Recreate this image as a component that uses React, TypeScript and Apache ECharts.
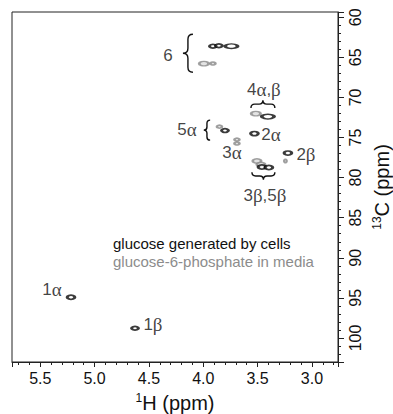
import React, { useEffect, useRef } from 'react';
import * as echarts from 'echarts';

const SANS = '"Liberation Sans", Arial, Helvetica, sans-serif';
const SERIF = '"Liberation Serif", "Times New Roman", serif';

// Axis ranges (ppm)
const H_RANGE = [2.76, 5.76];
const C_RANGE = [59.34, 103];

// Peaks: glucose generated by cells (black contours)
const cellsH = [3.911, 3.856, 3.741, 3.405, 3.8, 3.529, 3.221, 3.46, 3.396, 5.217, 4.628];
const cellsC = [63.61, 63.55, 63.61, 72.39, 74.13, 74.51, 76.94, 78.68, 78.74, 94.93, 98.79];
const cellsIntensity = [0.8, 0.8, 1.45, 1.45, 0.8, 0.9, 0.9, 0.9, 0.9, 0.9, 0.8];

// Peaks: glucose-6-phosphate in media (gray contours)
const mediaH = [3.994, 3.911, 3.516, 3.851, 3.69, 3.69, 3.244, 3.506, 3.469];
const mediaC = [65.78, 65.77, 72.02, 73.64, 75.26, 75.75, 77.93, 77.93, 78.37];
const mediaIntensity = [1.1, 0.6, 1.1, 0.6, 0.6, 0.6, 0.35, 1.0, 1.0];

// Assignment labels
const labelText = ['6', '4α,β', '5α', '3α', '2α', '2β', '3β,5β', '1α', '1β'];
const labelH = [4.325, 3.442, 4.15, 3.736, 3.377, 3.055, 3.432, 5.392, 4.463];
const labelC = [64.73, 68.97, 73.95, 76.81, 74.57, 77.06, 82.17, 94.0, 98.36];

// Braces grouping peaks: position on one axis, span on the other
const braceAt = [4.141, 3.966, 70.83, 79.8];
const braceFrom = [62.12, 72.83, 3.561, 3.552];
const braceTo = [66.85, 75.32, 3.341, 3.341];
const braceDir = ['left', 'left', 'up', 'down'];

const SERIES_CELLS = 'glucose generated by cells';
const SERIES_MEDIA = 'glucose-6-phosphate in media';

function bracePath(p1: number[], p2: number[], dir: string): string {
  const dx = p2[0] - p1[0];
  const dy = p2[1] - p1[1];
  const L = Math.sqrt(dx * dx + dy * dy);
  const ux = dx / L, uy = dy / L;
  const t = dir === 'left' ? [-1, 0] : dir === 'up' ? [0, -1] : [0, 1];
  const d = Math.max(6, Math.min(10, L * 0.32));
  const r = d / 2;
  const mx = (p1[0] + p2[0]) / 2, my = (p1[1] + p2[1]) / 2;
  const P = (a: number, b: number) => {
    const x = mx + ux * a - t[0] * b;
    const y = my + uy * a - t[1] * b;
    return x.toFixed(2) + ' ' + y.toFixed(2);
  };
  const h = L / 2;
  return (
    'M ' + P(-h, r) +
    ' Q ' + P(-h, 0) + ' ' + P(-h + r, 0) +
    ' L ' + P(-r, 0) +
    ' Q ' + P(0, 0) + ' ' + P(0, -r) +
    ' Q ' + P(0, 0) + ' ' + P(r, 0) +
    ' L ' + P(h - r, 0) +
    ' Q ' + P(h, 0) + ' ' + P(h, r)
  );
}

export default function App() {
  const ref = useRef<HTMLDivElement>(null);

  useEffect(() => {
    if (!ref.current) return;
    const chart = echarts.init(ref.current, null, { renderer: 'svg' });
    const axisColor = '#222';
    const textColor = '#111';

    const option: any = {
      animation: false,
      backgroundColor: '#fff',
      grid: {
        left: 12,
        right: 55,
        top: 12,
        bottom: 52,
        show: true,
        borderColor: axisColor,
        borderWidth: 1,
        backgroundColor: 'transparent',
        containLabel: false,
        outerBoundsMode: 'none',
      },
      legend: {
        orient: 'vertical',
        left: 108,
        top: 236,
        padding: 0,
        itemWidth: 0,
        itemHeight: 15,
        itemGap: 3,
        icon: 'none',
        selectedMode: false,
        textStyle: { fontSize: 15, fontFamily: SANS },
        data: [
          { name: SERIES_CELLS, icon: 'none', textStyle: { color: '#111' } },
          { name: SERIES_MEDIA, icon: 'none', textStyle: { color: '#8c8c8c' } },
        ],
      },
      xAxis: {
        type: 'value',
        position: 'bottom',
        inverse: true,
        min: H_RANGE[0],
        max: H_RANGE[1],
        splitNumber: 6,
        axisLine: { show: true, onZero: false, lineStyle: { color: axisColor, width: 1 } },
        axisTick: { show: true, length: 5, lineStyle: { color: axisColor, width: 1 } },
        minorTick: { show: true, splitNumber: 5, length: 3, lineStyle: { color: axisColor, width: 1 } },
        splitLine: { show: false },
        axisLabel: {
          fontSize: 16,
          fontFamily: SANS,
          color: textColor,
          margin: 8,
          showMinLabel: false,
          showMaxLabel: false,
          formatter: (v: number) => v.toFixed(1),
        },
        name: '{sup|1}{n|H (ppm)}',
        nameLocation: 'middle',
        nameGap: 30,
        nameTextStyle: {
          color: textColor,
          fontFamily: SANS,
          fontSize: 20,
          rich: {
            sup: { fontSize: 12, fontFamily: SANS, color: textColor, verticalAlign: 'top', lineHeight: 12 },
            n: { fontSize: 20, fontFamily: SANS, color: textColor, lineHeight: 22 },
          },
        },
      },
      yAxis: {
        type: 'value',
        position: 'right',
        inverse: true,
        min: C_RANGE[0],
        max: C_RANGE[1],
        splitNumber: 9,
        axisLine: { show: true, onZero: false, lineStyle: { color: axisColor, width: 1 } },
        axisTick: { show: true, length: 6, lineStyle: { color: axisColor, width: 1 } },
        minorTick: { show: true, splitNumber: 5, length: 3, lineStyle: { color: axisColor, width: 1 } },
        splitLine: { show: false },
        axisLabel: {
          fontSize: 16,
          fontFamily: SANS,
          color: textColor,
          margin: 9,
          rotate: 90,
          showMinLabel: false,
          showMaxLabel: false,
        },
        name: '{sup|13}{n|C (ppm)}',
        nameLocation: 'middle',
        nameRotate: 90,
        nameGap: 31,
        nameTextStyle: {
          color: textColor,
          fontFamily: SANS,
          fontSize: 20,
          rich: {
            sup: { fontSize: 12, fontFamily: SANS, color: textColor, verticalAlign: 'top', lineHeight: 12 },
            n: { fontSize: 20, fontFamily: SANS, color: textColor, lineHeight: 22 },
          },
        },
      },
      series: [
        {
          name: SERIES_MEDIA,
          type: 'scatter',
          symbol: 'circle',
          symbolSize: (_v: any, p: any) => {
            const s = mediaIntensity[p.dataIndex];
            return [Math.max(3, 8.5 * s), Math.max(3, 4.5 * Math.min(s, 1))];
          },
          itemStyle: { color: '#dcdcdc', borderColor: '#8a8a8a', borderWidth: 2 },
          emphasis: { disabled: true },
          silent: true,
          data: mediaH.map((h, i) => [h, mediaC[i]]),
          z: 3,
        },
        {
          name: SERIES_CELLS,
          type: 'scatter',
          symbol: 'circle',
          symbolSize: (_v: any, p: any) => {
            const s = cellsIntensity[p.dataIndex];
            return [Math.max(3, 8.5 * s), Math.max(3, 4.6 * Math.min(s, 1))];
          },
          itemStyle: { color: '#ffffff', borderColor: '#0a0a0a', borderWidth: 2.3 },
          emphasis: { disabled: true },
          silent: true,
          data: cellsH.map((h, i) => [h, cellsC[i]]),
          z: 4,
        },
        {
          name: 'labels',
          type: 'scatter',
          symbolSize: 0,
          silent: true,
          emphasis: { disabled: true },
          data: labelText.map((t, i) => ({ name: t, value: [labelH[i], labelC[i]] })),
          label: {
            show: true,
            position: 'inside',
            color: textColor,
            fontSize: 17,
            fontFamily: SANS,
            formatter: (p: any) => String(p.name).replace(/([αβ])/g, '{g|$1}'),
            rich: {
              g: { fontFamily: SERIF, fontSize: 19, color: textColor },
            },
          },
          z: 5,
        },
        {
          name: 'braces',
          type: 'custom',
          silent: true,
          data: braceAt.map((p, i) => [p, braceFrom[i], braceTo[i], i]),
          renderItem: (_params: any, api: any) => {
            const i = api.value(3);
            const dir = braceDir[i];
            const pos = braceAt[i];
            let p1: number[], p2: number[];
            if (dir === 'left') {
              p1 = api.coord([pos, braceFrom[i]]);
              p2 = api.coord([pos, braceTo[i]]);
            } else {
              p1 = api.coord([braceFrom[i], pos]);
              p2 = api.coord([braceTo[i], pos]);
            }
            return {
              type: 'path',
              shape: { pathData: bracePath(p1, p2, dir) },
              style: { stroke: '#111', fill: 'none', lineWidth: 1.4 },
            };
          },
          z: 5,
        },
      ],
    };

    chart.setOption(option);
    return () => chart.dispose();
  }, []);

  return (
    <div
      ref={ref}
      style={{ position: 'absolute', left: 0, top: 0, width: 393, height: 414, background: '#fff' }}
    />
  );
}
